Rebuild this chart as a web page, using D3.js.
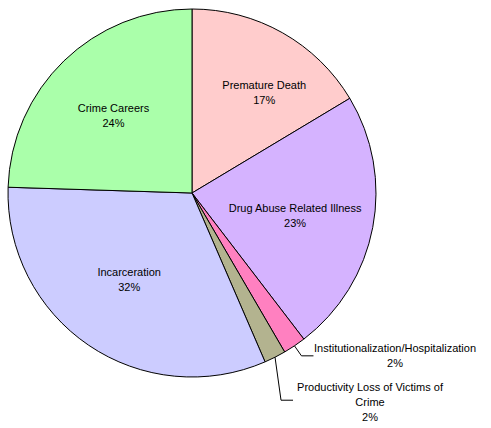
<!DOCTYPE html>
<html><head><meta charset="utf-8">
<script src="https://cdn.jsdelivr.net/npm/d3@7"></script>
<style>body{margin:0;background:#fff}svg{display:block}text{font-family:"Liberation Sans",Arial,sans-serif;font-size:11px;fill:#000}</style>
</head><body>
<svg id="c" width="491" height="428"></svg>
<script>
const categories = ["Premature Death","Drug Abuse Related Illness","Institutionalization/Hospitalization","Productivity Loss of Victims of Crime","Incarceration","Crime Careers"];
const values = [16.4, 23.2, 2.0, 1.9, 32.0, 24.5];
const pctLabels = ["17%","23%","2%","2%","32%","24%"];
const colors = ["#FFCCCC","#D5B3FF","#FF80C0","#B3B38F","#CCCCFF","#AAFFAA"];

const svg = d3.select("#c");
const cx = 192, cy = 193, R = 184;
const g = svg.append("g").attr("transform", `translate(${cx},${cy})`);
const pie = d3.pie().sort(null).value(d => d)(values);
const arc = d3.arc().innerRadius(0).outerRadius(R);
g.selectAll("path").data(pie).enter().append("path")
  .attr("d", arc).attr("fill", (d,i) => colors[i])
  .attr("stroke", "#000").attr("stroke-width", 1).attr("stroke-linejoin","round");

// inner labels
const labelArc = d3.arc().innerRadius(110).outerRadius(110);
const inner = [
  {i:0, dx:18, dy:-8},
  {i:1, dx:-5, dy:-2},
  {i:4, dx:-1, dy:-8},
  {i:5, dx:-2, dy:-2}
];
inner.forEach(o => {
  const [x,y] = labelArc.centroid(pie[o.i]);
  const t = g.append("text").attr("text-anchor","middle");
  const lines = [categories[o.i], pctLabels[o.i]];
  lines.forEach((s,k) => t.append("tspan").attr("x", x+o.dx).attr("y", y+o.dy + k*15).text(s));
});

// outside labels with leaders
const outer = [
  {i:2, pts:[[0,0],[7,10],[19,10]], tx:395, ty:352, lines:["Institutionalization/Hospitalization", pctLabels[2]]},
  {i:3, pts:[[0,0],[6,43],[18,43]], tx:370, ty:391, lines:["Productivity Loss of Victims of","Crime", pctLabels[3]]}
];
outer.forEach(o => {
  const a = (pie[o.i].startAngle + pie[o.i].endAngle)/2;
  const sx = Math.sin(a)*R, sy = -Math.cos(a)*R;
  const line = d3.line()(o.pts.map(p => [sx+p[0], sy+p[1]]));
  g.append("path").attr("d", line).attr("fill","none").attr("stroke","#000").attr("stroke-width",1);
  const t = svg.append("text").attr("text-anchor","middle");
  o.lines.forEach((s,k) => t.append("tspan").attr("x", o.tx).attr("y", o.ty + k*15).text(s));
});
</script>
</body></html>
